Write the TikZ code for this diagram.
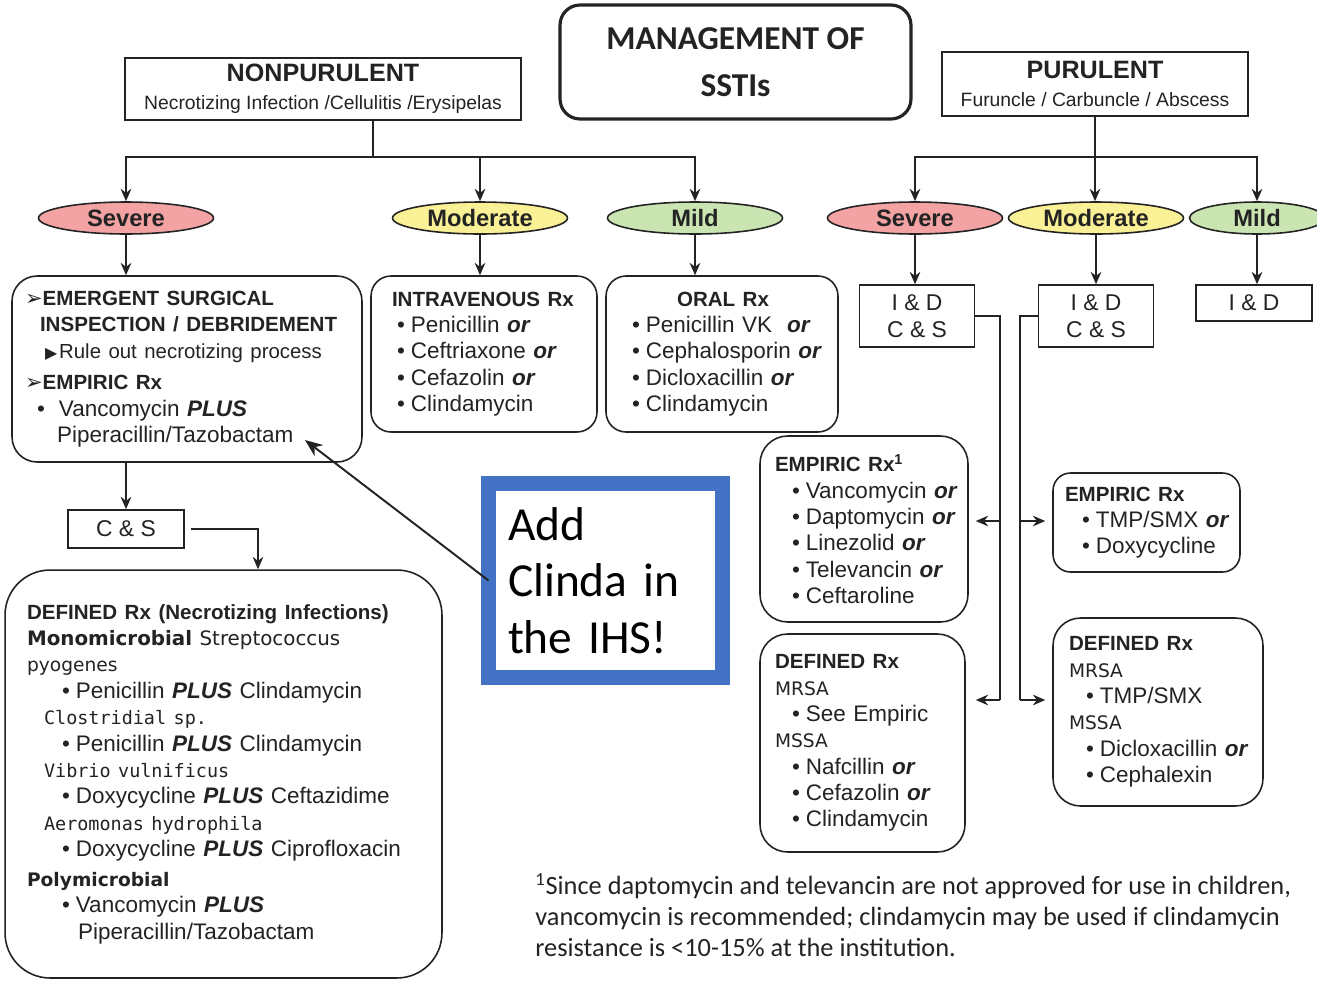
\documentclass[tikz,border=0pt]{standalone}
\usepackage{fontspec}
\setmainfont{Liberation Sans}
\newfontfamily\calib{Carlito}
\newfontfamily\dvs{DejaVu Sans}
\newfontfamily\spec{DejaVu Sans Mono}
\usetikzlibrary{arrows.meta,shapes.geometric,positioning}

\definecolor{ink}{RGB}{35,35,35}
\definecolor{sevpink}{RGB}{243,163,163}
\definecolor{modyellow}{RGB}{250,240,150}
\definecolor{mildgreen}{RGB}{202,229,178}
\definecolor{clindablue}{RGB}{68,114,196}

\newlength\pxu
\setlength\pxu{0.02cm}
\newcommand{\hd}[1]{{\fontsize{11.7pt}{15pt}\selectfont\bfseries #1}}
\newcommand{\bor}{~\textbf{\textit{or}}}
\newcommand{\bplus}{~\textbf{\textit{PLUS}}}
\newcommand{\bul}[1]{\hspace*{#1\pxu}•\hspace*{6\pxu}}
\newcommand{\verd}{\dvs\fontsize{10.6pt}{15pt}\selectfont}
\newcommand{\species}[1]{{\spec\fontsize{10.5pt}{15pt}\selectfont #1}}
\newcommand{\pointer}{{\dvs\fontsize{12pt}{15pt}\selectfont ➢}}

\tikzset{
  grade/.style={ellipse, draw=ink, line width=0.9pt, minimum width=3.5cm, minimum height=0.64cm,
    inner sep=0pt, font=\fontsize{13.5pt}{14pt}\selectfont\bfseries},
  head/.style={draw=ink, line width=1pt, align=center, inner sep=0pt, font=\fontsize{11pt}{15.8pt}\selectfont},
  rxbox/.style={draw=ink, line width=0.9pt, align=left, inner ysep=0pt, font=\fontsize{12.8pt}{15pt}\selectfont,
    execute at begin node={\hyphenpenalty=10000\exhyphenpenalty=10000\hbadness=10000\hfuzz=50pt}},
  idbox/.style={draw=ink, line width=0.9pt, align=center, inner sep=0pt, font=\fontsize{13pt}{15.3pt}\selectfont},
  flow/.style={line width=1.5pt}
}

\begin{document}
\begin{tikzpicture}[x=0.02cm, y=-0.02cm, >={Stealth[length=7pt,width=6pt]}, color=ink]
  \path[use as bounding box, fill=white] (0,0) rectangle (1317,981);

  % headings
  \node[head, rounded corners=0.4cm, line width=1.8pt, minimum width=7.02cm, minimum height=2.28cm,
        font=\calib\bfseries\fontsize{19pt}{26.6pt}\selectfont] (title) at (735.5,62) {MANAGEMENT OF\\SSTIs};
  \node[head, minimum width=7.92cm, minimum height=1.24cm] (nonpur) at (323,89)
        {{\fontsize{14.3pt}{15pt}\selectfont\bfseries NONPURULENT}\\Necrotizing Infection /Cellulitis /Erysipelas};
  \node[head, minimum width=6.12cm, minimum height=1.28cm] (pur) at (1095,84)
        {{\fontsize{14.3pt}{15pt}\selectfont\bfseries PURULENT}\\Furuncle / Carbuncle / Abscess};

  % severity
  \node[grade, fill=sevpink]   (sevL)  at (126,218)  {Severe};
  \node[grade, fill=modyellow] (modL)  at (480,218)  {Moderate};
  \node[grade, fill=mildgreen] (mildL) at (695,218)  {Mild};
  \node[grade, fill=sevpink]   (sevR)  at (915,218)  {Severe};
  \node[grade, fill=modyellow] (modR)  at (1096,218) {Moderate};
  \node[grade, fill=mildgreen, minimum width=2.7cm] (mildR) at (1257,218) {Mild};

  % nonpurulent treatment
  \node[rxbox, rounded corners=0.5cm, minimum height=3.72cm, text width=6.48cm, inner xsep=0.26cm] (sevbox) at (187,369)
    {\pointer\hd{EMERGENT SURGICAL}\\
     \hspace*{15\pxu}\hd{INSPECTION / DEBRIDEMENT}\\
     \hspace*{20\pxu}{\dvs\fontsize{9pt}{15pt}\selectfont ▶}\hspace*{2\pxu}{\fontsize{11.6pt}{15pt}\selectfont Rule out necrotizing process}\\[3pt]
     \pointer\hd{EMPIRIC Rx}\\
     \bul{12}\hspace*{8\pxu}Vancomycin\bplus\\
     \hspace*{32\pxu}Piperacillin/Tazobactam};
  \node[rxbox, rounded corners=0.4cm, minimum height=3.12cm, text width=3.68cm, inner xsep=0.42cm] (ivbox) at (484,354)
    {\hd{INTRAVENOUS~Rx}\\ \bul{5}Penicillin\bor\\ \bul{5}Ceftriaxone\bor\\ \bul{5}Cefazolin\bor\\ \bul{5}Clindamycin};
  \node[rxbox, rounded corners=0.4cm, minimum height=3.12cm, text width=3.6cm, inner xsep=0.52cm] (oralbox) at (722,354)
    {\hspace*{45\pxu}\hd{ORAL~Rx}\\ \bul{0}Penicillin~VK~\bor\\ \bul{0}Cephalosporin\bor\\ \bul{0}Dicloxacillin\bor\\ \bul{0}Clindamycin};
  \node[idbox, minimum width=2.32cm, minimum height=0.76cm] (cands) at (126,529) {C \& S};
  \node[rxbox, rounded corners=0.9cm, minimum height=8.16cm, text width=7.86cm, inner xsep=0.44cm] (defL) at (223.5,774)
    {\hd{DEFINED~Rx~(Necrotizing~Infections)}\\
     {\dvs\fontsize{11.3pt}{15pt}\selectfont\textbf{Monomicrobial} Streptococcus}\\
     {\verd pyogenes}\\
     \bul{35}Penicillin\bplus~Clindamycin\\
     \hspace*{17\pxu}\species{Clostridial sp.}\\
     \bul{35}Penicillin\bplus~Clindamycin\\
     \hspace*{17\pxu}\species{Vibrio vulnificus}\\
     \bul{35}Doxycycline\bplus~Ceftazidime\\
     \hspace*{17\pxu}\species{Aeromonas hydrophila}\\
     \bul{35}Doxycycline\bplus~Ciprofloxacin\\[2pt]
     {\verd\bfseries Polymicrobial}\\
     \bul{35}Vancomycin\bplus\\
     \hspace*{51\pxu}Piperacillin/Tazobactam};

  % purulent treatment
  \node[idbox, minimum width=2.3cm, minimum height=1.24cm] (idcs1) at (917,316) {I \& D\\C \& S};
  \node[idbox, minimum width=2.3cm, minimum height=1.24cm] (idcs2) at (1096,316) {I \& D\\C \& S};
  \node[idbox, minimum width=2.32cm, minimum height=0.72cm] (idonly) at (1254,303) {I \& D};
  \node[rxbox, rounded corners=0.55cm, minimum height=3.72cm, text width=3.56cm, inner xsep=0.3cm] (empM) at (864,529)
    {\hd{EMPIRIC~Rx\textsuperscript{1}}\\ \bul{17}Vancomycin\bor\\ \bul{17}Daptomycin\bor\\ \bul{17}Linezolid\bor\\ \bul{17}Televancin\bor\\ \bul{17}Ceftaroline};
  \node[rxbox, rounded corners=0.55cm, minimum height=4.36cm, text width=3.5cm, inner xsep=0.3cm] (defM) at (862.5,743)
    {\hd{DEFINED~Rx}\\ {\verd MRSA}\\ \bul{17}See~Empiric\\ {\verd MSSA}\\ \bul{17}Nafcillin\bor\\ \bul{17}Cefazolin\bor\\ \bul{17}Clindamycin};
  \node[rxbox, rounded corners=0.35cm, minimum height=1.98cm, text width=3.26cm, inner xsep=0.24cm] (empR) at (1146.5,522.5)
    {\hd{EMPIRIC~Rx}\\ \bul{17}TMP/SMX\bor\\ \bul{17}Doxycycline};
  \node[rxbox, rounded corners=0.55cm, minimum height=3.76cm, text width=3.56cm, inner xsep=0.32cm] (defR) at (1158,712)
    {\hd{DEFINED~Rx}\\ {\verd MRSA}\\ \bul{17}TMP/SMX\\ {\verd MSSA}\\ \bul{17}Dicloxacillin\bor\\ \bul{17}Cephalexin};

  % note
  \node[draw=clindablue, line width=0.3cm, fill=white, outer sep=0pt, minimum width=4.68cm, minimum height=3.88cm,
        text width=3.9cm, inner xsep=0.39cm, inner ysep=0pt, align=left, text=black,
        font=\calib\fontsize{27pt}{32.3pt}\selectfont] (clinda) at (605.5,580.5) {Add\\Clinda in\\the IHS!};
  \node[anchor=north west, inner sep=0pt, align=left, font=\calib\fontsize{15pt}{17.6pt}\selectfont] (foot) at (535,873)
    {\textsuperscript{1}Since daptomycin and televancin are not approved for use in children,\\
     vancomycin is recommended; clindamycin may be used if clindamycin\\
     resistance is <10-15\% at the institution.};

  % connectors
  \coordinate (npfork) at (373,157);
  \coordinate (pfork) at (1095,157);
  \draw[flow] (nonpur.south -| npfork) -- (npfork);
  \draw[flow,->] (npfork) -| (sevL.north);
  \draw[flow,->] (npfork) -| (modL.north);
  \draw[flow,->] (npfork) -| (mildL.north);
  \draw[flow,->] (pur.south) -- (pur.south |- modR.north);
  \draw[flow,->] (pfork) -| (sevR.north);
  \draw[flow,->] (pfork) -| (mildR.north);

  \draw[flow,->] (sevL.south) -- (sevL.south |- sevbox.north);
  \draw[flow,->] (modL.south) -- (modL.south |- ivbox.north);
  \draw[flow,->] (mildL.south) -- (mildL.south |- oralbox.north);
  \draw[flow,->] (sevR.south) -- (sevR.south |- idcs1.north);
  \draw[flow,->] (modR.south) -- (modR.south |- idcs2.north);
  \draw[flow,->] (mildR.south) -- (mildR.south |- idonly.north);

  \coordinate (cbend) at (258,529);
  \draw[flow,->] (cands.north |- sevbox.south) -- (cands.north);
  \draw[flow,->] ([xshift=0.12cm]cands.east) -- (cbend) -- (cbend |- defL.north);

  \coordinate (svtop) at (1000,316);
  \coordinate (svmid) at (1000,521);
  \coordinate (svbot) at (1000,700);
  \draw[flow] (idcs1.east) -- (svtop) -- (svbot);
  \draw[flow,->,shorten >=0.14cm] (svmid) -- (svmid -| empM.east);
  \draw[flow,->,shorten >=0.2cm] (svbot) -- (svbot -| defM.east);

  \coordinate (mdtop) at (1020,316);
  \coordinate (mdmid) at (1020,521);
  \coordinate (mdbot) at (1020,700);
  \draw[flow] (idcs2.west) -- (mdtop) -- (mdbot);
  \draw[flow,->,shorten >=0.14cm] (mdmid) -- (mdmid -| empR.west);
  \draw[flow,->,shorten >=0.14cm] (mdbot) -- (mdbot -| defR.west);

  \coordinate (tip) at (305,440);
  \draw[->, line width=1.1pt, >={Stealth[length=10pt,width=8pt]}] (clinda.west) -- (tip);
\end{tikzpicture}
\end{document}
